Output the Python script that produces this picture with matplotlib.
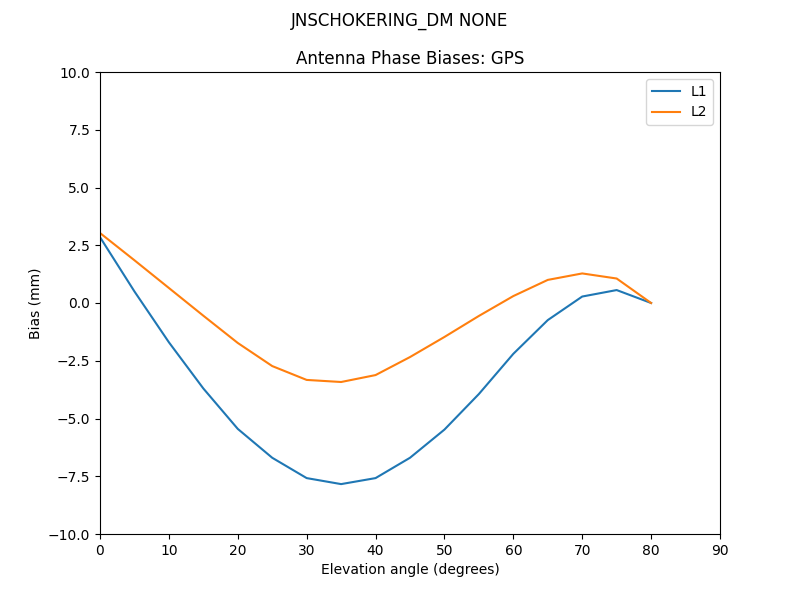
import matplotlib

matplotlib.use("Agg")
import matplotlib.pyplot as plt  # noqa: E402

# elevation angles (degrees) and biases (mm)
elevation = [0, 5, 10, 15, 20, 25, 30, 35, 40, 45, 50, 55, 60, 65, 70, 75, 80]
bias_l1 = [2.85, 0.5, -1.7, -3.7, -5.45, -6.7, -7.58, -7.84, -7.58, -6.7,
           -5.48, -3.94, -2.2, -0.74, 0.28, 0.56, 0.0]
bias_l2 = [3.03, 1.85, 0.65, -0.55, -1.73, -2.73, -3.33, -3.42, -3.12, -2.34,
           -1.47, -0.56, 0.3, 1.0, 1.28, 1.06, 0.0]

fig, ax = plt.subplots(figsize=(8, 6), dpi=100)
ax.plot(elevation, bias_l1, label="L1")
ax.plot(elevation, bias_l2, label="L2")
ax.set_xlim(0, 90)
ax.set_ylim(-10, 10)
ax.set_xlabel("Elevation angle (degrees)")
ax.set_ylabel("Bias (mm)")
ax.set_title("Antenna Phase Biases: GPS")
ax.legend(loc="upper right")
fig.suptitle("JNSCHOKERING_DM NONE")
fig.savefig("out.png")
